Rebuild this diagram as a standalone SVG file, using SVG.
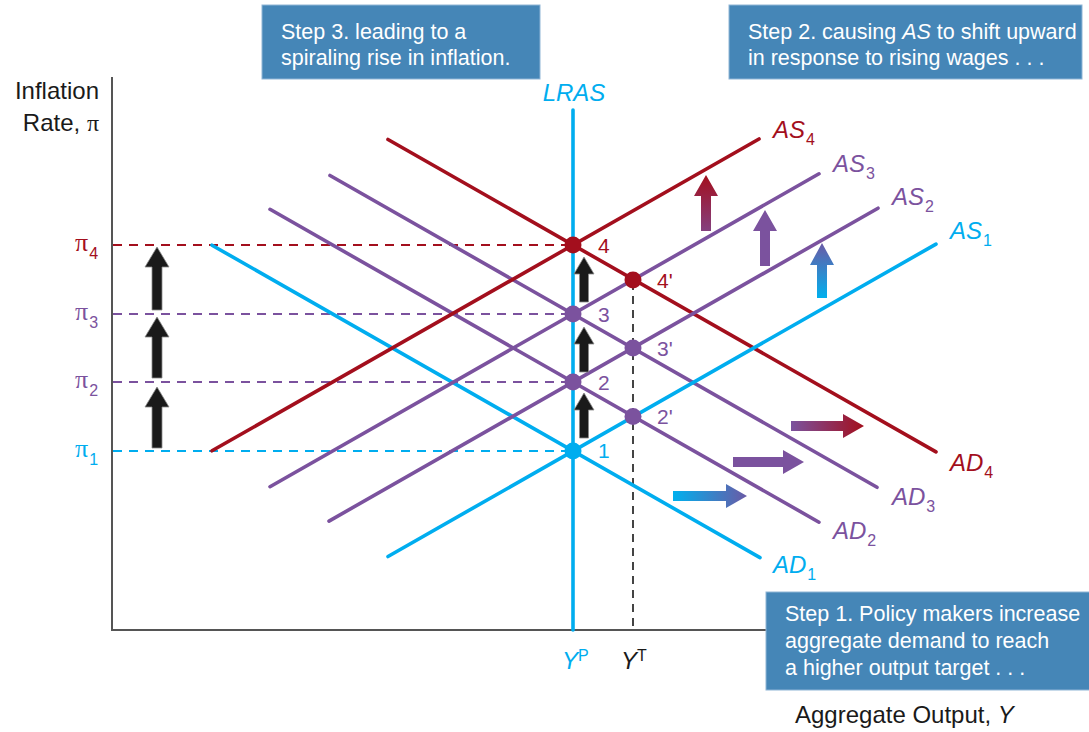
<svg xmlns="http://www.w3.org/2000/svg" width="1089" height="732" viewBox="0 0 1089 732">
<style>
text{font-family:"Liberation Sans",Arial,sans-serif}
.ax{stroke:#555;stroke-width:2;fill:none}
.cv{stroke-width:3.6;stroke-linecap:round;fill:none}
.dsh{stroke-width:1.8;stroke-dasharray:9 7;fill:none}
.cy{stroke:#00adef}.pu{stroke:#7b529e}.rd{stroke:#a30f1d}
.fcy{fill:#00adef}.fpu{fill:#7b529e}.frd{fill:#a30f1d}.fbk{fill:#1a1a1a}
.box{fill:#4586b7;stroke:#8fb5d6;stroke-width:1}
.bt{fill:#fff;font-size:21.5px}
.axl{fill:#1a1a1a;font-size:24px}
.lab{font-size:24px;font-style:italic}
.sub{font-size:16px;font-style:normal}
.num{font-size:21px}
.pi{font-family:"Liberation Serif","Times New Roman",serif;font-size:26px}
.bka{fill:#1a1a1a;stroke:#8a8a8a;stroke-width:0.8}
</style>
<defs>
<linearGradient id="gRedUp" x1="0" y1="0" x2="0" y2="1"><stop offset="0" stop-color="#a30f1d"/><stop offset="1" stop-color="#84407f"/></linearGradient>
<linearGradient id="gBlueUp" x1="0" y1="0" x2="0" y2="1"><stop offset="0" stop-color="#6a5aa6"/><stop offset="1" stop-color="#00b0ee"/></linearGradient>
<linearGradient id="gRedR" x1="0" y1="0" x2="1" y2="0"><stop offset="0" stop-color="#7b529e"/><stop offset="1" stop-color="#a30f1d"/></linearGradient>
<linearGradient id="gBlueR" x1="0" y1="0" x2="1" y2="0"><stop offset="0" stop-color="#00b0ee"/><stop offset="1" stop-color="#6a5aa6"/></linearGradient>
</defs>

<g id="axes">
<line class="ax" x1="112" y1="77" x2="112" y2="631"/>
<line class="ax" x1="111" y1="630" x2="770" y2="630"/>
<text class="axl" x="99" y="99" text-anchor="end">Inflation</text>
<text class="axl" x="99" y="131" text-anchor="end">Rate, <tspan font-family="Liberation Serif,serif">π</tspan></text>
<text class="axl" x="795" y="723">Aggregate Output, <tspan font-style="italic">Y</tspan></text>
</g>

<g id="guides">
<line class="dsh rd" x1="113" y1="245" x2="573" y2="245"/>
<line class="dsh pu" x1="113" y1="314" x2="573" y2="314"/>
<line class="dsh pu" x1="113" y1="382" x2="573" y2="382"/>
<line class="dsh cy" x1="113" y1="451" x2="573" y2="451"/>
<line x1="633" y1="282" x2="633" y2="630" stroke="#444" stroke-width="2" stroke-dasharray="8 6"/>
<text class="pi" x="75" y="251" fill="#a30f1d">π<tspan class="sub" font-family="Liberation Sans,Arial,sans-serif" dx="1" dy="8">4</tspan></text>
<text class="pi" x="75" y="320" fill="#7b529e">π<tspan class="sub" font-family="Liberation Sans,Arial,sans-serif" dx="1" dy="8">3</tspan></text>
<text class="pi" x="75" y="388" fill="#7b529e">π<tspan class="sub" font-family="Liberation Sans,Arial,sans-serif" dx="1" dy="8">2</tspan></text>
<text class="pi" x="75" y="457" fill="#00adef">π<tspan class="sub" font-family="Liberation Sans,Arial,sans-serif" dx="1" dy="8">1</tspan></text>
</g>

<g id="curves">
<line id="LRAS" class="cv cy" x1="573" y1="110" x2="573" y2="630" stroke-linecap="butt"/>
<line id="AD1" class="cv cy" x1="212" y1="245.2" x2="760" y2="557.6"/>
<line id="AD2" class="cv pu" x1="270" y1="209.3" x2="819" y2="522.2"/>
<line id="AD3" class="cv pu" x1="330" y1="175.5" x2="877" y2="487.3"/>
<line id="AD4" class="cv rd" x1="388" y1="139.5" x2="936" y2="451.9"/>
<line id="AS1" class="cv cy" x1="388" y1="556.5" x2="936" y2="244.1"/>
<line id="AS2" class="cv pu" x1="329" y1="521.1" x2="878" y2="208.2"/>
<line id="AS3" class="cv pu" x1="270" y1="486.7" x2="819" y2="173.8"/>
<line id="AS4" class="cv rd" x1="212" y1="450.8" x2="759" y2="139"/>
</g>

<g id="curve-labels">
<text class="lab" x="574" y="101" text-anchor="middle" fill="#00adef">LRAS</text>
<text class="lab" x="773" y="138" fill="#a30f1d">AS<tspan class="sub" dx="1" dy="7">4</tspan></text>
<text class="lab" x="833" y="172" fill="#7b529e">AS<tspan class="sub" dx="1" dy="7">3</tspan></text>
<text class="lab" x="892" y="205" fill="#7b529e">AS<tspan class="sub" dx="1" dy="7">2</tspan></text>
<text class="lab" x="950" y="239" fill="#00adef">AS<tspan class="sub" dx="1" dy="7">1</tspan></text>
<text class="lab" x="950" y="471" fill="#a30f1d">AD<tspan class="sub" dx="1" dy="7">4</tspan></text>
<text class="lab" x="892" y="505" fill="#7b529e">AD<tspan class="sub" dx="1" dy="7">3</tspan></text>
<text class="lab" x="833" y="539" fill="#7b529e">AD<tspan class="sub" dx="1" dy="7">2</tspan></text>
<text class="lab" x="773" y="573" fill="#00adef">AD<tspan class="sub" dx="1" dy="7">1</tspan></text>
<text class="lab" x="562" y="669" fill="#00adef">Y<tspan class="sub" font-style="italic" dy="-8">P</tspan></text>
<text class="lab" x="621" y="669" fill="#1a1a1a">Y<tspan class="sub" font-style="italic" dy="-8">T</tspan></text>
</g>

<g id="points">
<g id="p1"><circle cx="573" cy="451" r="8.5" class="fcy"/><text class="num fcy" x="598" y="458">1</text></g>
<g id="p2"><circle cx="573" cy="382" r="8.5" class="fpu"/><text class="num fpu" x="598" y="390">2</text></g>
<g id="p3"><circle cx="573" cy="314" r="8.5" class="fpu"/><text class="num fpu" x="598" y="322">3</text></g>
<g id="p4"><circle cx="573" cy="245" r="8.5" class="frd"/><text class="num frd" x="598" y="253">4</text></g>
<g id="p2p"><circle cx="633" cy="416.5" r="8.5" class="fpu"/><text class="num fpu" x="657" y="424">2'</text></g>
<g id="p3p"><circle cx="633" cy="348" r="8.5" class="fpu"/><text class="num fpu" x="657" y="356">3'</text></g>
<g id="p4p"><circle cx="633" cy="280" r="8.5" class="frd"/><text class="num frd" x="657" y="288">4'</text></g>
</g>

<g id="connectors">
<path class="bka" d="M157 387 L169 407 L162 407 L162 448 L152 448 L152 407 L145 407 Z"/>
<path class="bka" d="M157 317 L169 337 L162 337 L162 378 L152 378 L152 337 L145 337 Z"/>
<path class="bka" d="M157 247 L169 267 L162 267 L162 310 L152 310 L152 267 L145 267 Z"/>
<path class="bka" d="M584 393 L594 410 L588.5 410 L588.5 438 L579.5 438 L579.5 410 L574 410 Z"/>
<path class="bka" d="M584 327 L594 344 L588.5 344 L588.5 372 L579.5 372 L579.5 344 L574 344 Z"/>
<path class="bka" d="M584 257 L594 274 L588.5 274 L588.5 302 L579.5 302 L579.5 274 L574 274 Z"/>
<path fill="url(#gRedUp)" d="M706 175 L718 196 L711 196 L711 231 L701 231 L701 196 L694 196 Z"/>
<path fill="#7b529e" d="M765 210 L777 231 L770 231 L770 266 L760 266 L760 231 L753 231 Z"/>
<path fill="url(#gBlueUp)" d="M822 243 L834 265 L827 265 L827 298 L817 298 L817 265 L810 265 Z"/>
<path fill="url(#gRedR)" d="M864 426 L843 414 L843 421 L791 421 L791 431 L843 431 L843 438 Z"/>
<path fill="#7b529e" d="M804 462 L783 450 L783 457 L733 457 L733 467 L783 467 L783 474 Z"/>
<path fill="url(#gBlueR)" d="M747 496 L726 484 L726 491 L673 491 L673 501 L726 501 L726 508 Z"/>
</g>

<g id="step3">
<rect class="box" x="262" y="5" width="278" height="74"/>
<text class="bt" x="281" y="39">Step 3. leading to a</text>
<text class="bt" x="281" y="65">spiraling rise in inflation.</text>
</g>
<g id="step2">
<rect class="box" x="729" y="5" width="353" height="74"/>
<text class="bt" x="748" y="39">Step 2. causing <tspan font-style="italic">AS</tspan> to shift upward</text>
<text class="bt" x="748" y="65">in response to rising wages . . .</text>
</g>
<g id="step1">
<rect class="box" x="766" y="592" width="330" height="98"/>
<text class="bt" x="785" y="621">Step 1. Policy makers increase</text>
<text class="bt" x="785" y="648">aggregate demand to reach</text>
<text class="bt" x="785" y="675">a higher output target . . .</text>
</g>
</svg>
